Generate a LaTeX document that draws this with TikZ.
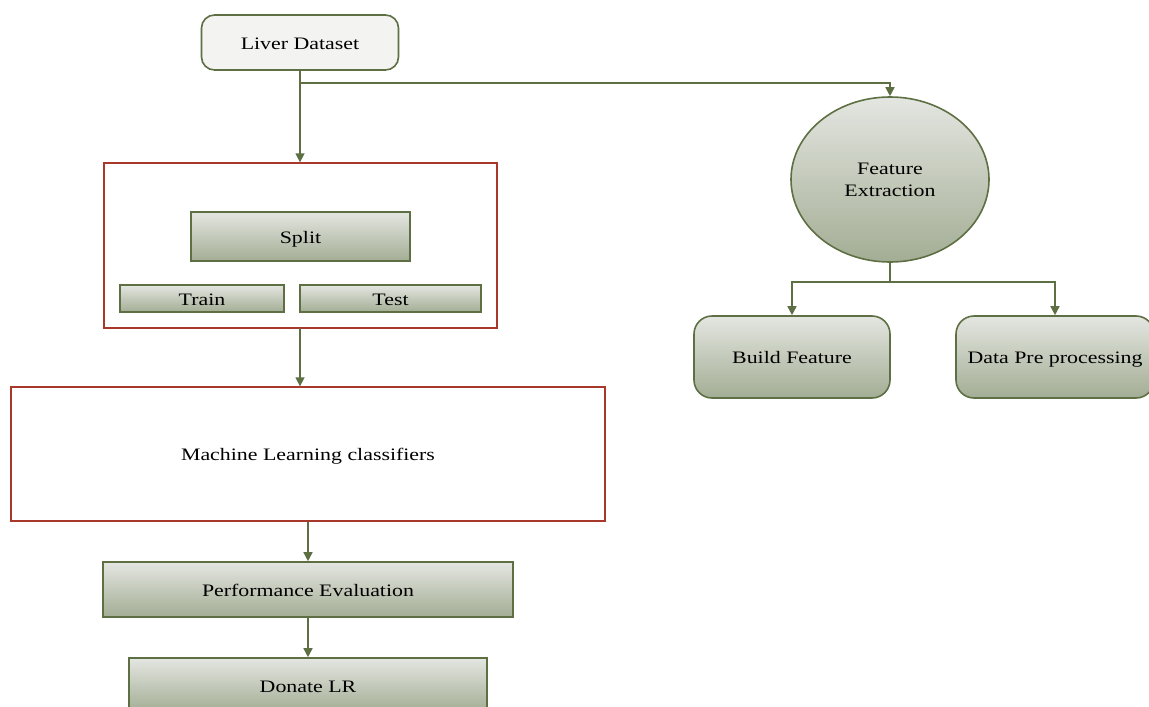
\documentclass[tikz,border=0pt]{standalone}
\usepackage{fontspec}
\setmainfont{Liberation Serif}[FakeStretch=1.25]
\usetikzlibrary{arrows.meta,shapes.geometric}
\definecolor{olv}{HTML}{5E7043}
\definecolor{redb}{HTML}{A8392A}
\definecolor{gtop}{HTML}{E4E6E1}
\definecolor{gbot}{HTML}{A3AD94}
\definecolor{lgray}{HTML}{F3F3F1}
\begin{document}
\begin{tikzpicture}[x=1pt,y=-1pt,
  font=\fontsize{17.5}{22}\selectfont,
  oneline/.style={text height=13pt,text depth=0pt},
  gbox/.style={draw=olv,line width=1.6pt,top color=gtop,bottom color=gbot,inner sep=0pt,align=center},
  redframe/.style={draw=redb,line width=1.3pt,fill=white,inner sep=0pt},
  conn/.style={draw=olv,line width=1.5pt},
  arr/.style={conn,-{Triangle[width=9pt,length=9pt]}}]
\useasboundingbox (0,0) rectangle (1149,707);
% nodes
\node[draw=olv,line width=1.6pt,fill=lgray,rounded corners=13pt,minimum width=197pt,minimum height=55pt,inner sep=0pt,oneline] (liver) at (300,42.5) {Liver Dataset};
\node[redframe,minimum width=393pt,minimum height=165pt] (split box) at (300.5,245.5) {};
\node[gbox,oneline,minimum width=219pt,minimum height=49pt] (split) at (300.5,236.5) {Split};
\node[gbox,oneline,minimum width=164pt,minimum height=27pt] (train) at (202,298.5) {Train};
\node[gbox,oneline,minimum width=181pt,minimum height=27pt] (test) at (390.5,298.5) {Test};
\node[redframe,oneline,minimum width=594pt,minimum height=134pt] (ml) at (308,454) {Machine Learning classifiers};
\node[gbox,oneline,minimum width=410pt,minimum height=55pt] (perf) at (308,589.5) {Performance Evaluation};
\node[gbox,minimum width=358pt,minimum height=54pt] (donate) at (308,685) {};
\node[oneline] at (308,686) {Donate LR};
\node[gbox,ellipse,minimum width=198pt,minimum height=165pt] (fe) at (890,179.5) {Feature\\Extraction};
\node[gbox,oneline,rounded corners=18pt,minimum width=196pt,minimum height=82pt] (build) at (792,357) {Build Feature};
\node[gbox,oneline,rounded corners=18pt,minimum width=198pt,minimum height=82pt] (data) at (1055,357) {Data Pre processing};
% connectors
\coordinate (br) at (300,83);
\coordinate (sb) at (300,328);
\draw[arr] (liver) -- (liver |- split box.north);
\draw[arr] (br) -| (fe);
\draw[arr] (sb) -- (sb |- ml.north);
\draw[arr] (ml) -- (perf);
\draw[arr] (perf) -- (donate);
\coordinate (fb) at (890,282);
\draw[conn] (fe.south) -- (fb);
\draw[arr] (fb) -| (build);
\draw[arr] (fb) -| (data);
\end{tikzpicture}
\end{document}
